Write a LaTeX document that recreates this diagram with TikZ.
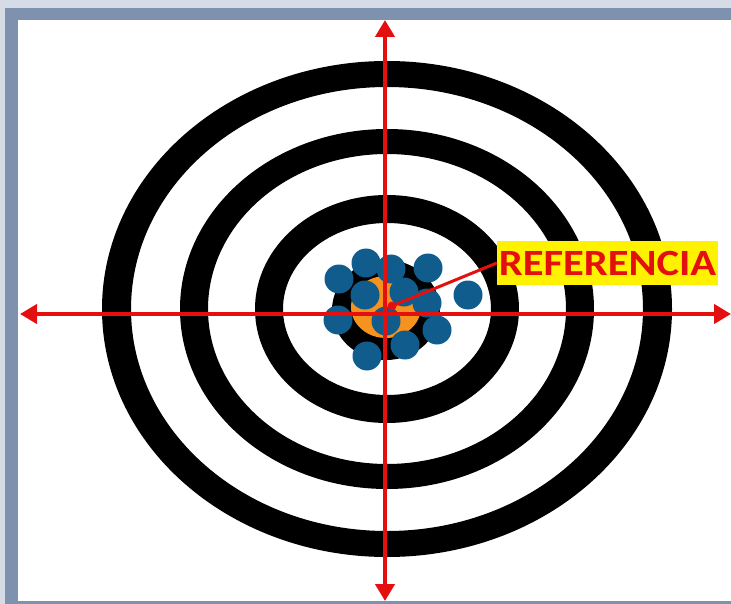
\documentclass[tikz,border=0pt]{standalone}
\usepackage{fontspec}
\setmainfont{Carlito}[FakeStretch=1.15]
\usetikzlibrary{arrows.meta}
\definecolor{frameblue}{RGB}{126,146,176}
\definecolor{framelight}{RGB}{214,220,230}
\definecolor{redline}{RGB}{228,16,16}
\definecolor{dotblue}{RGB}{16,92,140}
\definecolor{orangec}{RGB}{246,146,30}
\tikzset{
  ring/.style={fill=black, even odd rule},
  redaxis/.style={draw=redline, line width=4.5pt, {Triangle[length=17pt,width=19pt]}-{Triangle[length=17pt,width=19pt]}},
  dot/.style={circle, fill=dotblue, minimum size=29pt, inner sep=0pt},
  label/.style={fill=yellow, text=redline, font=\bfseries\fontsize{37}{38}\selectfont, inner sep=0pt, minimum width=221pt, minimum height=44pt}
}
\begin{document}
\begin{tikzpicture}[x=1pt,y=-1pt]
\useasboundingbox (0,0) rectangle (731,604);
% frame
\fill[framelight] (0,0) rectangle (731,604);
\fill[frameblue] (5,8) rectangle (731,604);
\fill[white] (18,20) rectangle (731,601);
\coordinate (c) at (387,309);
% rings
\fill[ring] (c) ellipse [x radius=285, y radius=248] (c) ellipse [x radius=256, y radius=222];
\fill[ring] (c) ellipse [x radius=207, y radius=180] (c) ellipse [x radius=179, y radius=155];
\fill[ring] (c) ellipse [x radius=132, y radius=114] (c) ellipse [x radius=104, y radius=86];
% centre
\fill[black] (386,310) ellipse [x radius=54, y radius=50];
\fill[orangec] (386,307) ellipse [x radius=35, y radius=31];
% dots
\node[dot] (d1) at (366,263) {};
\node[dot] (d2) at (391,269) {};
\node[dot] (d3) at (428,268) {};
\node[dot] (d4) at (339,279) {};
\node[dot] (d5) at (365,295) {};
\node[dot] (d6) at (404,292) {};
\node[dot] (d7) at (427,303) {};
\node[dot] (d8) at (468,295) {};
\node[dot] (d9) at (338,320) {};
\node[dot] (d10) at (386,321) {};
\node[dot] (d11) at (437,330) {};
\node[dot] (d12) at (405,345) {};
\node[dot] (d13) at (367,356) {};
% axes
\coordinate (left) at (20,314);
\coordinate (right) at (731,314);
\coordinate (top) at (385,20);
\coordinate (bottom) at (385,601);
\draw[redaxis] (left) -- (right);
\draw[redaxis] (top) -- (bottom);
% label
\node[label] (ref) at (607.5,263) {REFERENCIA};
\coordinate (hit) at (392,306);
\draw[redline, line width=3pt] (hit) -- (ref.west);
\fill[redline] (hit) circle (4.5);
\end{tikzpicture}
\end{document}
